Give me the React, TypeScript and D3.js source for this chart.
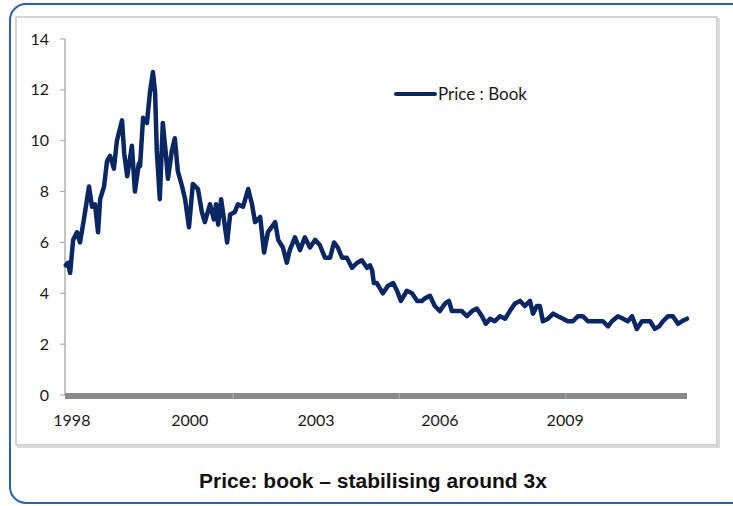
import React from "react";
import * as d3 from "d3";

// Decimal-year positions of the observations and the Price : Book values
const years: number[] = [
  1998.02, 1998.07, 1998.12, 1998.19, 1998.28, 1998.35, 1998.44, 1998.56, 1998.63, 1998.70,
  1998.77, 1998.82, 1998.91, 1998.98, 1999.05, 1999.14, 1999.21, 1999.33, 1999.38, 1999.45,
  1999.56, 1999.63, 1999.72, 1999.75, 1999.82, 1999.91, 1999.98, 2000.05, 2000.10, 2000.14,
  2000.21, 2000.28, 2000.35, 2000.40, 2000.49, 2000.56, 2000.63, 2000.73, 2000.80, 2000.89,
  2000.98, 2001.10, 2001.19, 2001.26, 2001.38, 2001.47, 2001.52, 2001.57, 2001.64, 2001.78,
  2001.85, 2001.96, 2002.03, 2002.15, 2002.27, 2002.36, 2002.43, 2002.55, 2002.64, 2002.73,
  2002.90, 2002.97, 2003.08, 2003.17, 2003.24, 2003.36, 2003.48, 2003.59, 2003.71, 2003.83,
  2003.94, 2004.06, 2004.18, 2004.27, 2004.36, 2004.46, 2004.57, 2004.69, 2004.81, 2004.92,
  2005.04, 2005.11, 2005.16, 2005.20, 2005.27, 2005.41, 2005.53, 2005.65, 2005.74, 2005.83,
  2005.97, 2006.09, 2006.21, 2006.32, 2006.39, 2006.51, 2006.62, 2006.74, 2006.86, 2006.95,
  2007.02, 2007.14, 2007.25, 2007.37, 2007.49, 2007.60, 2007.72, 2007.81, 2007.91, 2008.02,
  2008.14, 2008.26, 2008.37, 2008.49, 2008.61, 2008.72, 2008.84, 2008.91, 2009.00, 2009.07,
  2009.14, 2009.26, 2009.38, 2009.49, 2009.61, 2009.72, 2009.84, 2009.96, 2010.07, 2010.19,
  2010.31, 2010.42, 2010.54, 2010.66, 2010.75, 2010.89, 2011.01, 2011.12, 2011.22, 2011.33,
  2011.45, 2011.54, 2011.64, 2011.75, 2011.85, 2011.94, 2012.06, 2012.17, 2012.29, 2012.38,
  2012.50,
];

const priceBook: number[] = [
  5.1, 5.2, 4.8, 6.1, 6.4, 6.0, 6.9, 8.2, 7.4, 7.5,
  6.4, 7.7, 8.2, 9.2, 9.4, 8.9, 10.0, 10.8, 9.5, 8.6,
  9.8, 8.0, 9.1, 9.0, 10.9, 10.7, 11.9, 12.7, 11.9, 9.6,
  7.7, 10.7, 9.5, 8.5, 9.6, 10.1, 8.8, 8.2, 7.7, 6.6,
  8.3, 8.1, 7.2, 6.8, 7.5, 6.9, 7.5, 6.7, 7.7, 6.0,
  7.1, 7.2, 7.5, 7.4, 8.1, 7.5, 6.8, 7.0, 5.6, 6.4,
  6.8, 6.1, 5.8, 5.2, 5.7, 6.2, 5.7, 6.2, 5.8, 6.1,
  5.9, 5.4, 5.4, 6.0, 5.8, 5.4, 5.4, 5.0, 5.2, 5.3,
  5.0, 5.1, 4.9, 4.4, 4.4, 4.0, 4.3, 4.4, 4.1, 3.7,
  4.1, 4.0, 3.7, 3.7, 3.8, 3.9, 3.5, 3.3, 3.6, 3.7,
  3.3, 3.3, 3.3, 3.1, 3.3, 3.4, 3.1, 2.8, 3.0, 2.9,
  3.1, 3.0, 3.3, 3.6, 3.7, 3.5, 3.7, 3.2, 3.5, 3.5,
  2.9, 3.0, 3.2, 3.1, 3.0, 2.9, 2.9, 3.1, 3.1, 2.9,
  2.9, 2.9, 2.9, 2.7, 2.9, 3.1, 3.0, 2.9, 3.1, 2.6,
  2.9, 2.9, 2.9, 2.6, 2.7, 2.9, 3.1, 3.1, 2.8, 2.9,
  3.0,
];

const yTicks: number[] = [0, 2, 4, 6, 8, 10, 12, 14];
const xLabelYears: number[] = [1998.16, 2000.91, 2003.85, 2006.74, 2009.66];
const xLabels: string[] = ["1998", "2000", "2003", "2006", "2009"];
const xDividerYears: number[] = [2001.92, 2005.79, 2009.68];
const seriesName = "Price : Book";
const title = "Price: book \u2013 stabilising around 3x";

const W = 733;
const H = 506;
const plot = { left: 65, right: 687, top: 39, bottom: 395 };
const lineColor = "#0b2763";

export default function App() {
  const x = d3.scaleLinear().domain([1998, 2012.5]).range([plot.left, plot.right]);
  const y = d3.scaleLinear().domain([0, 14]).range([plot.bottom, plot.top]);
  const data = years.map((t, i) => [t, priceBook[i]] as [number, number]);
  const line = d3
    .line<[number, number]>()
    .x((d) => x(d[0]))
    .y((d) => y(d[1]));

  const tickFont = "Lato, 'Open Sans', sans-serif";

  return (
    <svg
      width={W}
      height={H}
      style={{ position: "absolute", left: 0, top: 0, background: "#fff" }}
    >
      {/* outer rounded frame */}
      <rect x={10} y={4} width={740} height={499} rx={16} ry={16} fill="#fff" stroke="#2a64ad" strokeWidth={2} />
      {/* inner chart area frame with subtle shadow */}
      <rect x={18} y={19} width={701} height={428} fill="none" stroke="#dcdcdc" strokeWidth={2} />
      <rect x={16} y={17} width={701} height={428} fill="#fff" stroke="#c6c6c6" strokeWidth={1.5} />

      {/* y axis */}
      <line x1={plot.left} x2={plot.left} y1={plot.top} y2={plot.bottom} stroke="#c4c4c4" strokeWidth={2} />
      {yTicks.map((t) => (
        <g key={t}>
          <line x1={plot.left - 5} x2={plot.left} y1={y(t)} y2={y(t)} stroke="#a0a0a0" strokeWidth={1} />
          <text
            x={plot.left - 16}
            y={y(t) + 5.5}
            textAnchor="end"
            fontFamily={tickFont}
            fontSize={16}
            fill="#1a1a1a"
          >
            {t}
          </text>
        </g>
      ))}

      {/* x axis thick bar */}
      <rect x={plot.left} y={plot.bottom - 2} width={plot.right - plot.left} height={6} fill="#8a8a8a" />
      {xDividerYears.map((t) => (
        <line key={t} x1={x(t)} x2={x(t)} y1={plot.bottom - 2} y2={plot.bottom + 4} stroke="#b4b4b4" strokeWidth={1} />
      ))}
      {xLabelYears.map((t, i) => (
        <text
          key={xLabels[i]}
          x={x(t)}
          y={426}
          textAnchor="middle"
          fontFamily={tickFont}
          fontSize={16}
          fill="#1a1a1a"
        >
          {xLabels[i]}
        </text>
      ))}

      {/* series */}
      <path
        d={line(data) || ""}
        fill="none"
        stroke={lineColor}
        strokeWidth={4.5}
        strokeLinejoin="round"
        strokeLinecap="round"
      />

      {/* legend */}
      <line x1={396} x2={435} y1={94} y2={94} stroke={lineColor} strokeWidth={4} strokeLinecap="round" />
      <text x={438} y={100} fontFamily={tickFont} fontSize={17} fill="#1a1a1a">
        {seriesName}
      </text>

      {/* caption */}
      <text
        x={373}
        y={488}
        textAnchor="middle"
        fontFamily="'Liberation Sans', Arial, sans-serif"
        fontWeight="bold"
        fontSize={21}
        fill="#111"
      >
        {title}
      </text>
    </svg>
  );
}
